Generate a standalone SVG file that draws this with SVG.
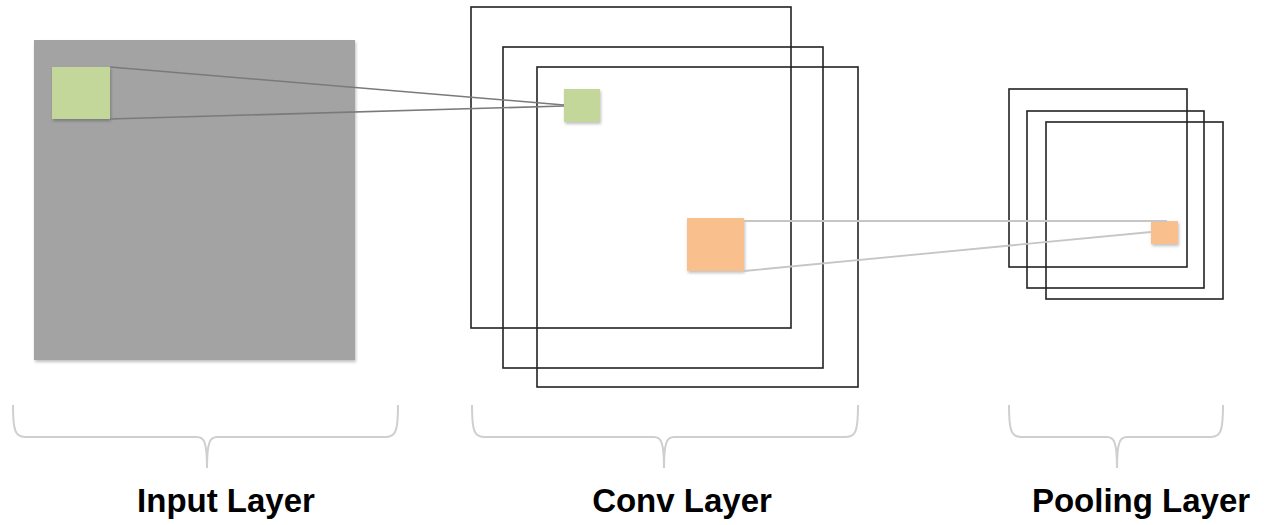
<svg xmlns="http://www.w3.org/2000/svg" width="1264" height="525" viewBox="0 0 1264 525">
<defs>
<filter id="sh" x="-10%" y="-10%" width="130%" height="130%">
<feDropShadow dx="1" dy="2" stdDeviation="1.5" flood-color="#000" flood-opacity="0.25"/>
</filter>
</defs>
<style>
.frame{fill:none;stroke:#222;stroke-width:1.6}
.green{fill:#c4d79b}
.orange{fill:#f9bf8c}
.gline{fill:none;stroke:#7a7a7a;stroke-width:1.6}
.oline{fill:none;stroke:#c6c6c6;stroke-width:1.8}
.brace{fill:none;stroke:#cfcfcf;stroke-width:2}
.label{font-family:"Liberation Sans",Arial,sans-serif;font-weight:bold;font-size:33px;fill:#000;text-anchor:middle}
</style>
<rect width="1264" height="525" fill="#fff"/>
<g id="input-layer">
<rect x="34" y="40" width="321" height="320" fill="#a3a3a3" filter="url(#sh)"/>
<rect class="green" x="52" y="67" width="58" height="52" filter="url(#sh)"/>
</g>
<g id="conv-layer">
<rect class="frame" x="471" y="7" width="320" height="321"/>
<rect class="frame" x="503" y="47" width="320" height="321"/>
<rect class="frame" x="537" y="67" width="321" height="320"/>
<rect class="green" x="564" y="89" width="36" height="33" filter="url(#sh)"/>
<rect class="orange" x="687" y="218" width="57" height="53" filter="url(#sh)"/>
</g>
<g id="pooling-layer">
<rect class="frame" x="1009" y="89" width="178" height="178"/>
<rect class="frame" x="1027" y="111" width="177" height="177"/>
<rect class="frame" x="1046" y="122" width="177" height="177"/>
<rect class="orange" x="1151" y="221" width="27" height="23" filter="url(#sh)"/>
</g>
<g id="connectors">
<line class="gline" x1="110" y1="67" x2="564" y2="105"/>
<line class="gline" x1="110" y1="119" x2="564" y2="106"/>
<line class="oline" x1="744" y1="221" x2="1167" y2="221"/>
<line class="oline" x1="744" y1="271" x2="1151" y2="232"/>
</g>
<g id="braces">
<path class="brace" d="M13,405 C13,430 15,437 25,437 L197,437 C204,437 207,442 207,468 C207,442 210,437 217,437 L386,437 C396,437 398,430 398,405"/>
<path class="brace" d="M472,405 C472,430 474,437 484,437 L654,437 C661,437 664,442 664,468 C664,442 667,437 674,437 L846,437 C856,437 858,430 858,405"/>
<path class="brace" d="M1009,405 C1009,430 1011,437 1021,437 L1107,437 C1114,437 1117,442 1117,468 C1117,442 1120,437 1127,437 L1211,437 C1221,437 1223,430 1223,405"/>
</g>
<g id="labels">
<text class="label" x="226" y="512">Input Layer</text>
<text class="label" x="682" y="512">Conv Layer</text>
<text class="label" x="1141" y="512">Pooling Layer</text>
</g>
</svg>
